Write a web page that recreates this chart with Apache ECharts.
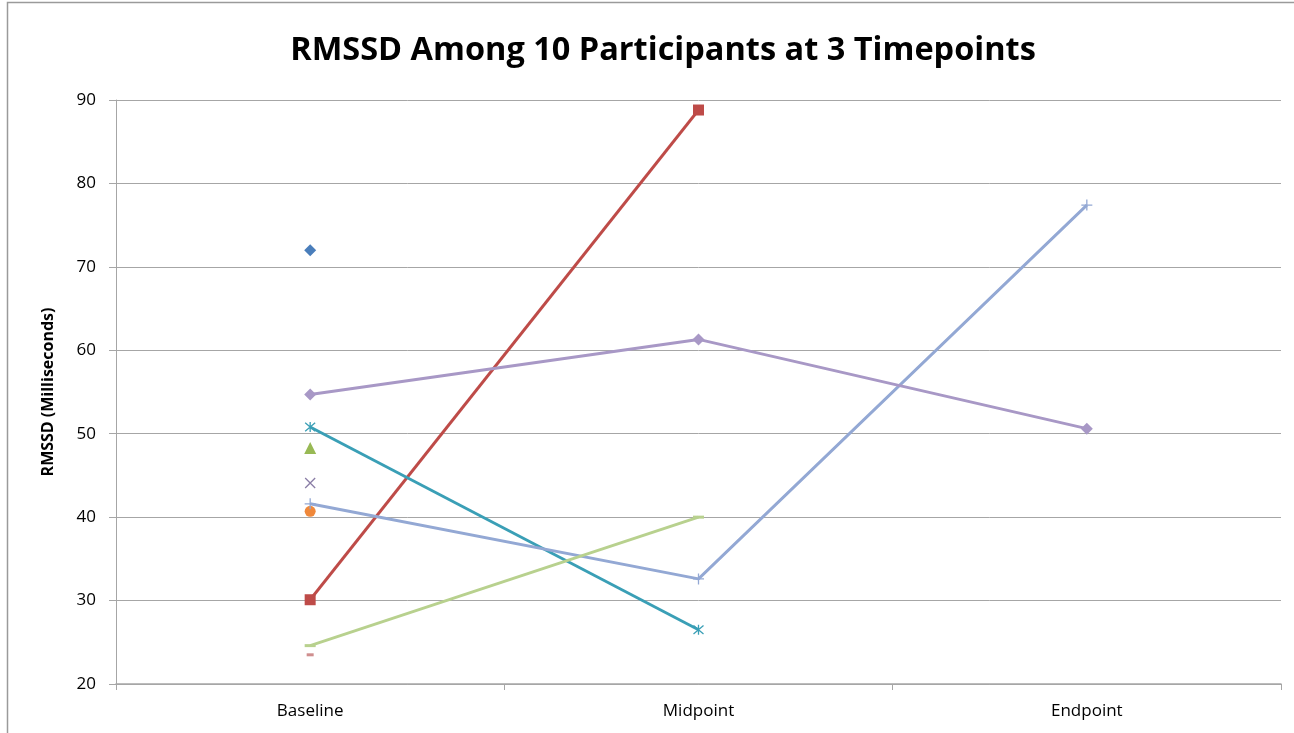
<!DOCTYPE html>
<html>
<head>
<meta charset="utf-8">
<script src="https://cdn.jsdelivr.net/npm/echarts@6/dist/echarts.min.js"></script>
<style>
  html, body { margin: 0; padding: 0; background: #fff; }
  #chart { width: 1294px; height: 733px; }
</style>
</head>
<body>
<div id="chart"></div>
<script>
// Timepoints on the category axis
const timepoints = ['Baseline', 'Midpoint', 'Endpoint'];

// RMSSD (ms) per participant; null = no measurement at that timepoint
const participant1  = [72.0, null, null];
const participant2  = [30.1, 88.8, null];
const participant3  = [48.3, null, null];
const participant4  = [44.1, null, null];
const participant5  = [50.8, 26.5, null];
const participant6  = [40.7, null, null];
const participant7  = [41.6, 32.6, 77.4];
const participant8  = [23.5, null, null];
const participant9  = [24.6, 40.0, null];
const participant10 = [54.7, 61.3, 50.6];

const yTicks = { min: 20, max: 90, interval: 10 };

// Marker shapes in the classic spreadsheet cycle
const X_MARK = 'path://M0,0L10,10M10,0L0,10';
const STAR_MARK = 'path://M0,0L10,10M10,0L0,10M5,-1L5,11';
const PLUS_MARK = 'path://M5,0L5,10M0,5L10,5';

function makeSeries(name, data, color, symbol, size, stroked) {
  return {
    name: name,
    type: 'line',
    data: data,
    connectNulls: false,
    symbol: symbol,
    symbolSize: size,
    showSymbol: true,
    showAllSymbol: true,
    lineStyle: { color: color, width: 2.9 },
    itemStyle: stroked
      ? { color: color, borderColor: color, borderWidth: 1.3 }
      : { color: color, borderWidth: 0 },
    emphasis: { disabled: true },
    animation: false,
    z: 3
  };
}

const series = [
  makeSeries('P1', participant1, '#4A7EBB', 'diamond', 12, false),
  makeSeries('P2', participant2, '#BE4B48', 'rect', 11, false),
  makeSeries('P3', participant3, '#98B954', 'triangle', 12, false),
  makeSeries('P4', participant4, '#8A7DA6', X_MARK, 10, true),
  makeSeries('P5', participant5, '#3A9FB6', STAR_MARK, 10, true),
  makeSeries('P6', participant6, '#F0883A', 'circle', 11, false),
  makeSeries('P7', participant7, '#93A8D4', PLUS_MARK, 11, true),
  makeSeries('P8', participant8, '#CF8E8E', 'rect', [7, 3], false),
  makeSeries('P9', participant9, '#B8D18E', 'rect', [11, 3], false),
  makeSeries('P10', participant10, '#A898C6', 'diamond', 12, false)
];

const chart = echarts.init(document.getElementById('chart'), null, { renderer: 'canvas' });

chart.setOption({
  backgroundColor: '#ffffff',
  animation: false,
  title: {
    text: 'RMSSD Among 10 Participants at 3 Timepoints',
    left: 658,
    textAlign: 'center',
    top: 29,
    textStyle: {
      fontFamily: 'Open Sans',
      fontWeight: 'bold',
      fontSize: 32.5,
      color: '#000'
    }
  },
  graphic: [
    {
      type: 'polyline',
      shape: { points: [[7.5, 733], [7.5, 2.5], [1294, 2.5]] },
      style: { stroke: '#9a9a9a', lineWidth: 1.5, fill: null },
      silent: true
    }
  ],
  grid: { left: 116, right: 13, top: 100, bottom: 49, containLabel: false },
  xAxis: {
    type: 'category',
    data: timepoints,
    boundaryGap: true,
    axisLine: { lineStyle: { color: '#a6a6a6', width: 1.5 } },
    axisTick: { show: true, alignWithLabel: false, length: 6, lineStyle: { color: '#a6a6a6' } },
    axisLabel: {
      color: '#000',
      fontFamily: 'Open Sans',
      fontSize: 17,
      margin: 19
    },
    splitLine: { show: false }
  },
  yAxis: {
    type: 'value',
    min: yTicks.min,
    max: yTicks.max,
    interval: yTicks.interval,
    name: 'RMSSD (Milliseconds)',
    nameLocation: 'middle',
    nameGap: 60,
    nameTextStyle: {
      fontFamily: 'Open Sans',
      fontWeight: 'bold',
      fontSize: 16,
      color: '#000'
    },
    axisLine: { show: true, lineStyle: { color: '#a6a6a6', width: 1 } },
    axisTick: { show: true, length: 7, lineStyle: { color: '#a6a6a6' } },
    axisLabel: {
      color: '#000',
      fontFamily: 'Open Sans',
      fontSize: 17,
      margin: 20
    },
    splitLine: { show: true, lineStyle: { color: '#a6a6a6', width: 1 } }
  },
  series: series
});
</script>
</body>
</html>
